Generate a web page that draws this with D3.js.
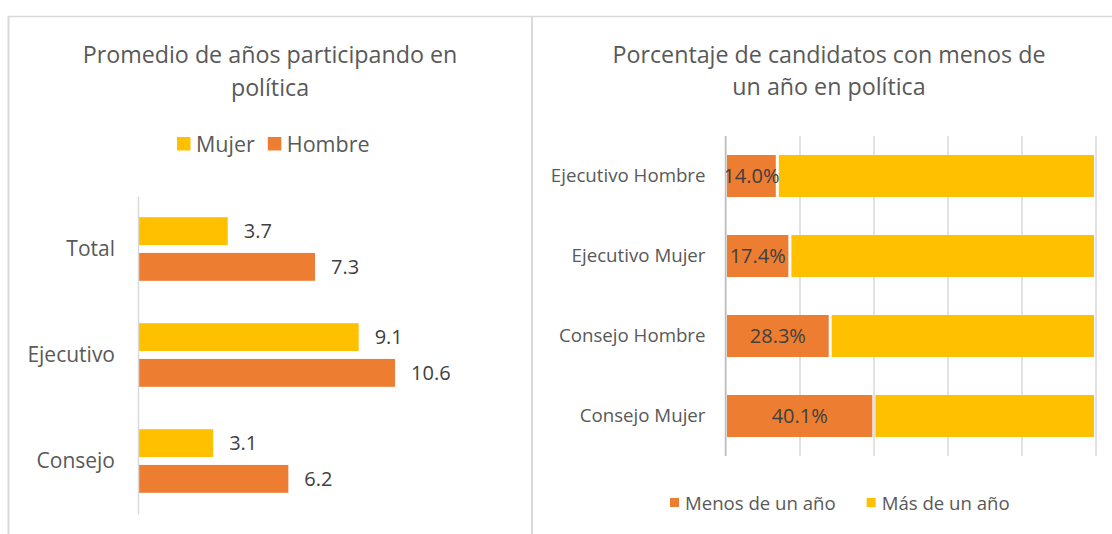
<!DOCTYPE html>
<html lang="es">
<head>
<meta charset="UTF-8">
<title>Candidatos en política</title>
<script src="https://d3js.org/d3.v7.min.js"></script>
<style>
  body { margin: 0; background: #fff; }
  text { font-family: "Open Sans", sans-serif; }
</style>
</head>
<body>
<svg id="chart" width="1112" height="534"></svg>
<script>
// left chart data
var leftCategories = ["Total", "Ejecutivo", "Consejo"];
var leftSeries = ["Mujer", "Hombre"];
var mujerYears = [3.7, 9.1, 3.1];
var hombreYears = [7.3, 10.6, 6.2];

// right chart data
var rightCategories = ["Ejecutivo Hombre", "Ejecutivo Mujer", "Consejo Hombre", "Consejo Mujer"];
var rightSeries = ["Menos de un año", "Más de un año"];
var menosPct = [14.0, 17.4, 28.3, 40.1];
var masPct = [86.0, 82.6, 71.7, 59.9];
var pctTicks = [0, 20, 40, 60, 80, 100];

var orange = "#ED7D31", yellow = "#FFC000";
var textGray = "#595959", labelGray = "#404040", lineGray = "#D9D9D9";
var font = "'Open Sans', sans-serif";

var svg = d3.select("#chart");

// panel borders
svg.append("line").attr("x1", 8).attr("x2", 1112).attr("y1", 16.5).attr("y2", 16.5)
    .attr("stroke", lineGray).attr("stroke-width", 1.5);
svg.append("line").attr("x1", 8.5).attr("x2", 8.5).attr("y1", 16).attr("y2", 534)
    .attr("stroke", lineGray).attr("stroke-width", 2);
svg.append("line").attr("x1", 532).attr("x2", 532).attr("y1", 16).attr("y2", 534)
    .attr("stroke", lineGray).attr("stroke-width", 2);

// ---------- left chart ----------
var left = svg.append("g");

left.selectAll(".title").data(["Promedio de años participando en", "política"])
    .enter().append("text")
    .attr("x", 270).attr("y", function (d, i) { return 63 + i * 32.5; })
    .attr("text-anchor", "middle").attr("fill", textGray).attr("font-size", 23.25)
    .text(function (d) { return d; });

var xL = d3.scaleLinear().domain([0, 12]).range([138, 429]);
var yL = d3.scaleBand().domain(leftCategories).range([196, 514]);
var ySub = d3.scaleBand().domain(leftSeries)
    .range([yL.bandwidth() * 0.2, yL.bandwidth() * 0.8]).paddingInner(0.22);

var leftRows = leftCategories.map(function (c, i) {
    return { cat: c, values: [
        { s: "Mujer", v: mujerYears[i], color: yellow },
        { s: "Hombre", v: hombreYears[i], color: orange }
    ] };
});

var groups = left.selectAll(".grp").data(leftRows).enter().append("g")
    .attr("transform", function (d) { return "translate(0," + yL(d.cat) + ")"; });

groups.selectAll("rect").data(function (d) { return d.values; })
    .enter().append("rect")
    .attr("x", xL(0))
    .attr("y", function (d) { return ySub(d.s); })
    .attr("width", function (d) { return xL(d.v) - xL(0); })
    .attr("height", ySub.bandwidth())
    .attr("fill", function (d) { return d.color; });

groups.selectAll(".val").data(function (d) { return d.values; })
    .enter().append("text")
    .attr("x", function (d) { return xL(d.v) + 16; })
    .attr("y", function (d) { return ySub(d.s) + ySub.bandwidth() / 2; })
    .attr("dy", "0.36em").attr("fill", labelGray).attr("font-size", 20)
    .text(function (d) { return d.v.toFixed(1); });

// category axis
var axisL = left.append("g").attr("transform", "translate(138,0)")
    .call(d3.axisLeft(yL).tickSize(0).tickPadding(23));
axisL.select(".domain").attr("stroke", lineGray).attr("stroke-width", 1.5);
axisL.selectAll("text").attr("fill", textGray).attr("font-size", 21)
    .attr("font-family", font);

// left legend
var legL = left.append("g");
var lx = 177;
leftSeries.forEach(function (s, i) {
    var g = legL.append("g").attr("transform", "translate(" + lx + ",0)");
    g.append("rect").attr("x", 0).attr("y", 137).attr("width", 13.5).attr("height", 13.5)
        .attr("fill", i === 0 ? yellow : orange);
    var t = g.append("text").attr("x", 19).attr("y", 144).attr("dy", "0.36em")
        .attr("fill", textGray).attr("font-size", 21.5).text(s);
    lx += 19 + t.node().getComputedTextLength() + 13;
});

// ---------- right chart ----------
var right = svg.append("g");

right.selectAll(".title").data(["Porcentaje de candidatos con menos de", "un año en política"])
    .enter().append("text")
    .attr("x", 829).attr("y", function (d, i) { return 62.5 + i * 32.5; })
    .attr("text-anchor", "middle").attr("fill", textGray).attr("font-size", 23.25)
    .text(function (d) { return d; });

var xR = d3.scaleLinear().domain([0, 100]).range([725.5, 1095.5]);
var yR = d3.scaleBand().domain(rightCategories).range([136, 456])
    .paddingInner(0.475).paddingOuter(0.2375);

// gridlines
var grid = right.append("g").attr("transform", "translate(0,456)")
    .call(d3.axisBottom(xR).tickValues(pctTicks).tickSize(-320).tickFormat(""));
grid.select(".domain").remove();
grid.selectAll("line").attr("stroke", lineGray).attr("stroke-width", 1.5);

var rightRows = rightCategories.map(function (c, i) {
    return { cat: c, segs: [
        { x0: 0, x1: menosPct[i], v: menosPct[i], color: orange },
        { x0: menosPct[i], x1: menosPct[i] + masPct[i], v: masPct[i], color: yellow }
    ] };
});

var rg = right.selectAll(".row").data(rightRows).enter().append("g")
    .attr("transform", function (d) { return "translate(0," + yR(d.cat) + ")"; });

rg.selectAll("rect").data(function (d) { return d.segs; })
    .enter().append("rect")
    .attr("x", function (d) { return xR(d.x0) + 1.5; })
    .attr("y", 0)
    .attr("width", function (d) { return xR(d.x1) - xR(d.x0) - 3; })
    .attr("height", yR.bandwidth())
    .attr("fill", function (d) { return d.color; });

rg.append("text")
    .attr("x", function (d) { return (xR(d.segs[0].x0) + xR(d.segs[0].x1)) / 2; })
    .attr("y", yR.bandwidth() / 2).attr("dy", "0.36em")
    .attr("text-anchor", "middle").attr("fill", labelGray).attr("font-size", 20)
    .text(function (d) { return d.segs[0].v.toFixed(1) + "%"; });

var axisR = right.append("g").attr("transform", "translate(725.5,0)")
    .call(d3.axisLeft(yR).tickSize(0).tickPadding(20));
axisR.select(".domain").attr("stroke", "#BFBFBF").attr("stroke-width", 1.5)
    .attr("d", "M0,136V456");
axisR.selectAll("text").attr("fill", textGray).attr("font-size", 18.7)
    .attr("font-family", font);

// right legend
var rx = 670;
rightSeries.forEach(function (s, i) {
    var g = right.append("g").attr("transform", "translate(" + rx + ",0)");
    g.append("rect").attr("x", 0).attr("y", 498).attr("width", 9).attr("height", 9)
        .attr("fill", i === 0 ? orange : yellow);
    var t = g.append("text").attr("x", 15).attr("y", 503).attr("dy", "0.36em")
        .attr("fill", textGray).attr("font-size", 18.6).text(s);
    rx += 15 + t.node().getComputedTextLength() + 31;
});
</script>
</body>
</html>
